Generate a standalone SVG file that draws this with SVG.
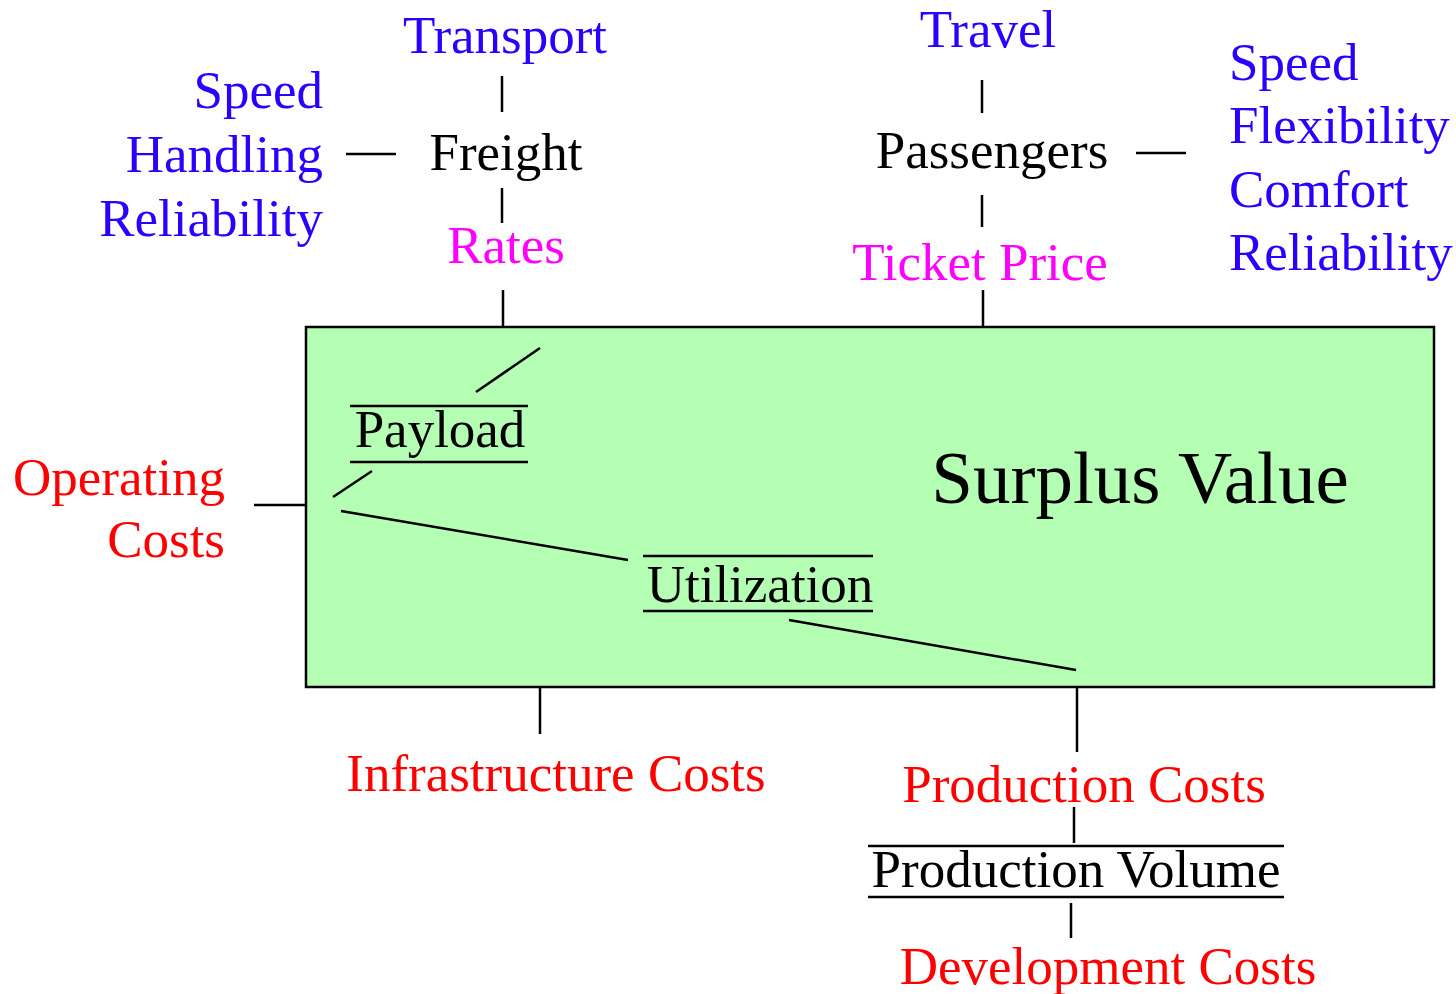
<svg xmlns="http://www.w3.org/2000/svg" width="1456" height="994" viewBox="0 0 1456 994">
  <style>
    text { font-family: "Liberation Serif", "Times New Roman", serif; font-size: 53px; }
    .blue { fill: #2a00ff; }
    .mag { fill: #ff00ff; }
    .red { fill: #ff0000; }
    .blk { fill: #000000; }
    .mid { text-anchor: middle; }
    .end { text-anchor: end; }
    .ln { stroke: #000; stroke-width: 2.5; fill: none; }
  </style>
  <rect width="1456" height="994" fill="#ffffff"/>

  <!-- main block -->
  <g id="surplus">
    <rect x="306" y="327" width="1128" height="360" fill="#b5ffb5" stroke="#000" stroke-width="2.5"/>
    <text x="1140" y="503" class="blk mid" style="font-size:75px">Surplus Value</text>
  </g>

  <g id="freight-side">
    <text x="505" y="53" class="blue mid">Transport</text>
    <text x="323" y="108" class="blue end">Speed</text>
    <text x="323" y="172" class="blue end">Handling</text>
    <text x="323" y="236" class="blue end">Reliability</text>
    <text x="506" y="170" class="blk mid">Freight</text>
    <text x="506" y="263" class="mag mid">Rates</text>
  </g>

  <g id="passenger-side">
    <text x="988" y="47" class="blue mid">Travel</text>
    <text x="992" y="168" class="blk mid">Passengers</text>
    <text x="980" y="280" class="mag mid">Ticket Price</text>
    <text x="1229" y="80" class="blue">Speed</text>
    <text x="1229" y="143" class="blue">Flexibility</text>
    <text x="1229" y="207" class="blue">Comfort</text>
    <text x="1229" y="270" class="blue">Reliability</text>
  </g>

  <g id="payload">
    <line x1="350" y1="406" x2="528" y2="406" class="ln"/>
    <text x="440" y="447" class="blk mid">Payload</text>
    <line x1="350" y1="462" x2="528" y2="462" class="ln"/>
  </g>

  <g id="utilization">
    <line x1="643" y1="556" x2="873" y2="556" class="ln"/>
    <text x="760" y="602" class="blk mid">Utilization</text>
    <line x1="643" y1="611" x2="873" y2="611" class="ln"/>
  </g>

  <g id="operating">
    <text x="225" y="495" class="red end">Operating</text>
    <text x="225" y="557" class="red end">Costs</text>
  </g>

  <g id="infrastructure">
    <text x="556" y="791" class="red mid">Infrastructure Costs</text>
  </g>

  <g id="production">
    <text x="1084" y="802" class="red mid">Production Costs</text>
    <line x1="868" y1="846" x2="1284" y2="846" class="ln"/>
    <text x="1076" y="887" class="blk mid">Production Volume</text>
    <line x1="868" y1="897" x2="1284" y2="897" class="ln"/>
    <text x="1108" y="984" class="red mid">Development Costs</text>
  </g>

  <g id="connectors" class="ln">
    <line x1="502" y1="76" x2="502" y2="112"/>
    <line x1="502" y1="188" x2="502" y2="223"/>
    <line x1="503" y1="290" x2="503" y2="327"/>
    <line x1="346" y1="154" x2="396" y2="154"/>

    <line x1="982" y1="80" x2="982" y2="113"/>
    <line x1="982" y1="195" x2="982" y2="227"/>
    <line x1="983" y1="290" x2="983" y2="327"/>
    <line x1="1136" y1="153" x2="1186" y2="153"/>

    <line x1="540" y1="348" x2="476" y2="392"/>
    <line x1="372" y1="471" x2="333" y2="497"/>
    <line x1="341" y1="511" x2="628" y2="560"/>
    <line x1="789" y1="620" x2="1076" y2="670"/>

    <line x1="254" y1="505" x2="306" y2="505"/>
    <line x1="540" y1="687" x2="540" y2="734"/>
    <line x1="1077" y1="687" x2="1077" y2="752"/>
    <line x1="1074" y1="807" x2="1074" y2="843"/>
    <line x1="1071" y1="903" x2="1071" y2="938"/>
  </g>
</svg>
